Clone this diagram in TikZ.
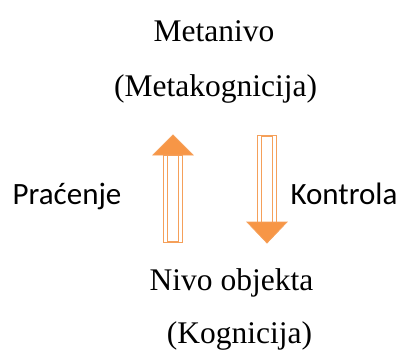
\documentclass[tikz,border=0pt]{standalone}
\usepackage{fontspec}
\setmainfont{Liberation Serif}
\newfontfamily\calib{Carlito}
\definecolor{arrorange}{HTML}{F79646}
\definecolor{arrline}{HTML}{F5A05A}
\begin{document}
\begin{tikzpicture}[x=1pt,y=-1pt,
  serlabel/.style={font=\fontsize{31.5}{36}\selectfont, anchor=base, inner sep=0pt},
  sanlabel/.style={font=\calib\fontsize{31}{36}\selectfont, anchor=base, inner sep=0pt},
  shaftline/.style={draw=arrline, line width=0.9pt},
  headfill/.style={fill=arrorange, draw=arrline, line width=0.8pt, line join=miter}]
\useasboundingbox (0,0) rectangle (404,349);
\node[serlabel] (meta) at (214,41) {Metanivo};
\node[serlabel] (metak) at (215.5,96) {(Metakognicija)};
\node[serlabel] (obj) at (231.5,290) {Nivo objekta};
\node[serlabel] (kog) at (239.5,343) {(Kognicija)};
\node[sanlabel] (prac) at (67,204) {Praćenje};
\node[sanlabel] (kont) at (344,204) {Kontrola};
% up arrow (Pracenje)
\coordinate (utip) at (173,135);
\draw[shaftline] (163.5,155) rectangle (182.5,242);
\draw[shaftline] (167.5,155) rectangle (178.5,241);
\draw[headfill] (utip) -- (193,155) -- (153,155) -- cycle;
% down arrow (Kontrola)
\coordinate (dtip) at (267,243);
\draw[shaftline] (257.5,135) rectangle (276.5,222);
\draw[shaftline] (261.5,136) rectangle (272.5,222);
\draw[headfill] (dtip) -- (247,222) -- (287,222) -- cycle;
\end{tikzpicture}
\end{document}
